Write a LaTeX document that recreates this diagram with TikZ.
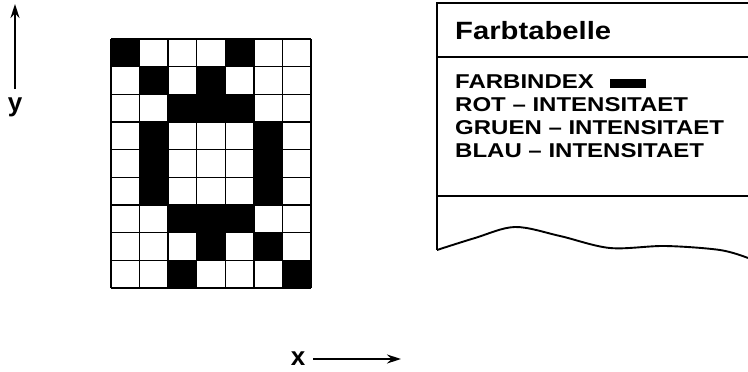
\documentclass[tikz,border=0pt]{standalone}
\usepackage{fontspec}
\setmainfont{Liberation Sans}
\newfontfamily\titlefont[FakeStretch=1.17]{Liberation Sans}
\newfontfamily\rowfont[FakeStretch=1.2]{Liberation Sans}
\usetikzlibrary{arrows.meta}
\tikzset{
  gridline/.style={line width=1.3pt},
  outline/.style={line width=1.9pt},
  axis/.style={line width=1.6pt,-{Stealth[length=14pt,width=9pt]}},
  axislabel/.style={inner sep=0pt,font=\fontsize{26}{26}\selectfont\bfseries},
  titletext/.style={inner sep=0pt,anchor=base west,font=\titlefont\fontsize{25}{25}\selectfont\bfseries},
  rowtext/.style={inner sep=0pt,anchor=base west,font=\rowfont\fontsize{20}{20}\selectfont\bfseries},
}
\begin{document}
\begin{tikzpicture}[x=1pt,y=-1pt]
\useasboundingbox (0,0) rectangle (748,372);
% pixel grid
\foreach \r/\c in {0/0,0/4,1/1,1/3,2/2,2/3,2/4,3/1,3/5,4/1,4/5,5/1,5/5,6/2,6/3,6/4,7/3,7/5,8/2,8/6}
  \fill (111+\c*200/7, 39+\r*249/9) rectangle ++(200/7, 249/9);
\foreach \i in {0,...,7}
  \draw[gridline] (111+\i*200/7,39) -- (111+\i*200/7,288);
\foreach \j in {0,...,9}
  \draw[gridline] (111,39+\j*249/9) -- (311,39+\j*249/9);
% y axis
\coordinate (ya) at (15,89);
\coordinate (yb) at (15,4);
\draw[axis] (ya) -- (yb);
\node[axislabel,anchor=base] (ylab) at (15,111) {y};
% x axis
\node[axislabel] (xlab) at (298,359) {x};
\coordinate (xa) at (313,359);
\coordinate (xb) at (401,359);
\draw[axis] (xa) -- (xb);
% colour table
\draw[outline] (748,3) -- (437,3) -- (437,250);
\draw[outline] (437,57) -- (748,57);
\draw[outline] (437,196) -- (748,196);
\draw[outline] plot[smooth,tension=0.55] coordinates {(437,250) (475,238) (515,227) (560,236) (610,248) (665,246) (720,250) (748,258)};
\node[titletext] (title) at (455,39) {Farbtabelle};
\node[rowtext] (r1) at (455,88) {FARBINDEX};
\node[fill=black,inner sep=0pt,minimum width=36pt,minimum height=9pt] (bar) at (628,83) {};
\node[rowtext] (r2) at (455,111) {ROT – INTENSITAET};
\node[rowtext] (r3) at (455,134) {GRUEN – INTENSITAET};
\node[rowtext] (r4) at (455,157) {BLAU – INTENSITAET};
\end{tikzpicture}
\end{document}
